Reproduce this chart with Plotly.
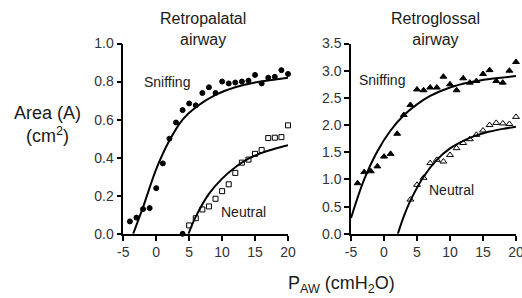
import plotly.graph_objects as go

# ---------------- data ----------------
# Retropalatal airway (left panel)
rp_sniff_p = [-4, -3, -2, -1, 0, 1, 2, 3, 4, 5, 6, 7, 8, 9, 10, 11, 12, 13, 14, 15, 16, 17, 18, 19, 20]
rp_sniff_a = [0.065, 0.085, 0.13, 0.135, 0.24, 0.37, 0.50, 0.585, 0.65, 0.685, 0.675, 0.74, 0.77, 0.74,
              0.80, 0.79, 0.795, 0.80, 0.805, 0.835, 0.79, 0.82, 0.825, 0.86, 0.84]
rp_zero_p = [4]
rp_zero_a = [0.0]
rp_neut_p = [5, 6, 7, 8, 9, 10, 11, 12, 13, 14, 15, 16, 17, 18, 19, 20]
rp_neut_a = [0.044, 0.082, 0.128, 0.144, 0.184, 0.224, 0.26, 0.32, 0.374, 0.39, 0.42, 0.44,
             0.503, 0.505, 0.508, 0.57]
rp_sniff_fit_p = [-3.5, -2, 0, 2, 4, 6, 9, 12, 15, 20]
rp_sniff_fit_a = [0.0, 0.14, 0.34, 0.49, 0.60, 0.665, 0.73, 0.77, 0.795, 0.82]
rp_neut_fit_p = [4.9, 6, 8, 10, 12, 14, 16, 18, 20]
rp_neut_fit_a = [0.0, 0.09, 0.21, 0.29, 0.35, 0.395, 0.425, 0.447, 0.465]

# Retroglossal airway (right panel)
rg_sniff_p = [-4, -3, -2, -1, 0, 1, 2, 3, 4, 5, 6, 7, 8, 9, 10, 11, 12, 13, 14, 15, 16, 17, 18, 19, 20]
rg_sniff_a = [0.93, 1.135, 1.15, 1.24, 1.42, 1.47, 1.84, 2.185, 2.37, 2.655, 2.64, 2.69, 2.69, 2.89,
              2.75, 2.64, 2.86, 2.78, 2.81, 2.94, 3.01, 2.81, 2.78, 3.0, 3.16]
rg_neut_p = [4, 5, 6, 7, 8, 9, 10, 11, 12, 13, 14, 15, 16, 17, 18, 19, 20]
rg_neut_a = [0.63, 0.90, 1.03, 1.30, 1.36, 1.33, 1.45, 1.575, 1.67, 1.74, 1.82, 1.90, 2.0, 2.04,
             2.03, 2.02, 2.15]
rg_sniff_fit_p = [-5, -3, -1, 1, 3, 5, 7, 10, 13, 16, 20]
rg_sniff_fit_a = [0.29, 1.0, 1.52, 1.9, 2.18, 2.38, 2.535, 2.69, 2.786, 2.847, 2.9]
rg_neut_fit_p = [2.1, 3, 4, 6, 8, 10, 12, 14, 16, 18, 20]
rg_neut_fit_a = [0.0, 0.32, 0.61, 1.05, 1.36, 1.57, 1.71, 1.81, 1.88, 1.93, 1.97]

x_ticks = [-5, 0, 5, 10, 15, 20]
rp_y_ticks = [0.0, 0.2, 0.4, 0.6, 0.8, 1.0]
rg_y_ticks = [0.0, 0.5, 1.0, 1.5, 2.0, 2.5, 3.0, 3.5]

# ---------------- figure ----------------
FONT = "Liberation Sans, Arial, sans-serif"
INK = "#1a1a1a"
fig = go.Figure()

def pts(x, y, xa, ya, symbol, size):
    fig.add_trace(go.Scatter(x=x, y=y, xaxis=xa, yaxis=ya, mode="markers", cliponaxis=False,
                             marker=dict(symbol=symbol, size=size, color="black",
                                         line=dict(color="black", width=1))))

def fit(x, y, xa, ya):
    fig.add_trace(go.Scatter(x=x, y=y, xaxis=xa, yaxis=ya, mode="lines", cliponaxis=False,
                             line=dict(color="black", width=2, shape="spline", smoothing=1.0)))

fit(rp_sniff_fit_p, rp_sniff_fit_a, "x", "y")
fit(rp_neut_fit_p, rp_neut_fit_a, "x", "y")
pts(rp_sniff_p, rp_sniff_a, "x", "y", "circle", 5)
pts(rp_zero_p, rp_zero_a, "x", "y", "circle", 5)
pts(rp_neut_p, rp_neut_a, "x", "y", "square-open", 5)

fit(rg_sniff_fit_p, rg_sniff_fit_a, "x2", "y2")
fit(rg_neut_fit_p, rg_neut_fit_a, "x2", "y2")
pts(rg_sniff_p, rg_sniff_a, "x2", "y2", "triangle-up", 6)
pts(rg_neut_p, rg_neut_a, "x2", "y2", "triangle-up-open", 6)

W, H = 522, 298
y_dom = [(H - 233.8) / H, (H - 43.5) / H]

axis_common = dict(showgrid=False, zeroline=False, showline=True, linecolor="black", linewidth=1.5,
                   ticks="outside", ticklen=5, tickwidth=1.5, tickcolor="black", automargin=False,
                   tickfont=dict(family=FONT, size=14, color="#333333"))

fig.update_layout(
    width=W, height=H, margin=dict(l=0, r=0, t=0, b=0, autoexpand=False),
    paper_bgcolor="white", plot_bgcolor="white", showlegend=False,
    font=dict(family=FONT, color=INK),
    xaxis=dict(domain=[123.3 / W, 288 / W], range=[-5, 20], tickvals=x_ticks,
               ticktext=[str(v) for v in x_ticks], anchor="y", **axis_common),
    yaxis=dict(domain=y_dom, range=[0, 1.0], tickvals=rp_y_ticks,
               ticktext=[f"{v:.1f}" for v in rp_y_ticks], anchor="x", **axis_common),
    xaxis2=dict(domain=[351 / W, 516 / W], range=[-5, 20], tickvals=x_ticks,
                ticktext=[str(v) for v in x_ticks], anchor="y2", ticklabeloverflow="allow",
                **axis_common),
    yaxis2=dict(domain=y_dom, range=[0, 3.5], tickvals=rg_y_ticks,
                ticktext=[f"{v:.1f}" for v in rg_y_ticks], anchor="x2", **axis_common),
)

ann = []
def text(x, y, s, size, xref="paper", yref="paper"):
    ann.append(dict(x=x, y=y, xref=xref, yref=yref, text=s, showarrow=False,
                    font=dict(family=FONT, size=size, color=INK), xanchor="center", yanchor="middle"))

text(203 / W, 1 - 29 / H, "Retropalatal<br>airway", 16)
text(435 / W, 1 - 29 / H, "Retroglossal<br>airway", 16)
text(47 / W, 1 - 124 / H, "Area (A)<br>(cm<sup>2</sup>)", 18)
text(341 / W, 1 - 284 / H, "P<sub>AW</sub> (cmH<sub>2</sub>O)", 18)
text(1.6, 0.80, "Sniffing", 14, "x", "y")
text(13.3, 0.115, "Neutral", 14, "x", "y")
text(-0.35, 2.83, "Sniffing", 14, "x2", "y2")
text(10.3, 0.81, "Neutral", 14, "x2", "y2")
fig.update_layout(annotations=ann)

fig.write_html("out.html", config={"displayModeBar": False},
               post_script="document.body.style.margin='0';document.body.style.overflow='hidden';")
